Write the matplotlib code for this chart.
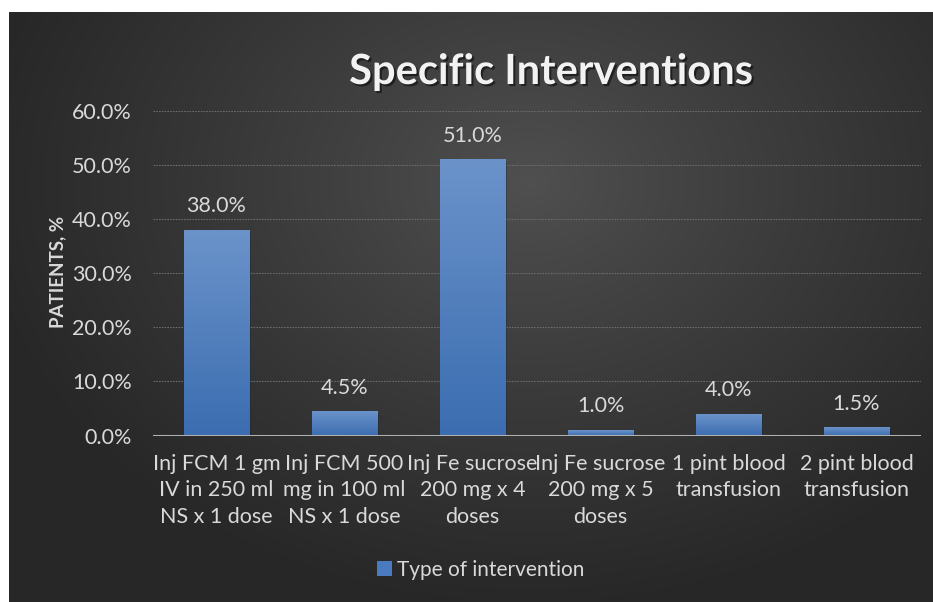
import numpy as np
import matplotlib
matplotlib.use("Agg")
import matplotlib.pyplot as plt
from matplotlib.patches import Patch
from matplotlib import patheffects as pe
from matplotlib.ticker import FuncFormatter

categories = [
    "Inj FCM 1 gm\nIV in 250 ml\nNS x 1 dose",
    "Inj FCM 500\nmg in 100 ml\nNS x 1 dose",
    "Inj Fe sucrose\n200 mg x 4\ndoses",
    "Inj Fe sucrose\n200 mg x 5\ndoses",
    "1 pint blood\ntransfusion",
    "2 pint blood\ntransfusion",
]
values = [38.0, 4.5, 51.0, 1.0, 4.0, 1.5]
y_ticks = [0, 10, 20, 30, 40, 50, 60]
title = "Specific Interventions"
y_label = "PATIENTS, %"
series_name = "Type of intervention"

FONT = ["Lato", "DejaVu Sans"]
TEXT = "#d9d9d9"
W, H = 933, 602

fig = plt.figure(figsize=(W / 100, H / 100), dpi=100, facecolor="white")

# dark radial-gradient chart background
bg = fig.add_axes([9 / W, 0, 1 - 9 / W, 590 / H], zorder=0)
bg.set_axis_off()
yy, xx = np.mgrid[0:590, 0:924]
cx, cy = 520, 170
r = np.sqrt(((xx - cx) / 560) ** 2 + ((yy - cy) / 430) ** 2)
r = np.clip(r, 0, 1)
shade = (0x50 - (0x50 - 0x27) * r ** 0.9) / 255
img = np.dstack([shade, shade, shade])
bg.imshow(img, aspect="auto", extent=[0, 1, 0, 1], origin="upper")
bg.set_xlim(0, 1)
bg.set_ylim(0, 1)

# plot area
x0, x1 = 152.5, 920.5
y_bot, y_top = 435.5, 110.7
ax = fig.add_axes([x0 / W, 1 - y_bot / H, (x1 - x0) / W, (y_bot - y_top) / H], zorder=1)
ax.patch.set_alpha(0)
x = np.arange(len(categories))
ax.set_xlim(-0.5, len(categories) - 0.5)
ax.set_ylim(0, 60)

for t in y_ticks[1:]:
    ax.axhline(t, color="#6b6b6b", lw=0.8, ls=(0, (1.5, 1)), zorder=1)

bars = ax.bar(x, values, width=0.51, color="#4a7bc0", zorder=3,
              path_effects=[pe.SimplePatchShadow(offset=(1.5, -1.5), alpha=0.35), pe.Normal()])

# vertical gradient fill on each bar
grad = np.linspace(0, 1, 256).reshape(-1, 1)
top_c = np.array([0x6b, 0x93, 0xca]) / 255
bot_c = np.array([0x3b, 0x6d, 0xb0]) / 255
gimg = top_c * (1 - grad[..., None]) + bot_c * grad[..., None]
gimg = gimg.reshape(256, 1, 3)
for b in bars:
    bx, by = b.get_x(), b.get_y()
    bw, bh = b.get_width(), b.get_height()
    im = ax.imshow(gimg, extent=[bx, bx + bw, by, by + max(bh, 0.01)],
                   aspect="auto", origin="upper", zorder=4)
    im.set_clip_path(b)

ax.axhline(0, color="#b0b0b0", lw=2.2, zorder=5)

for xi, v in zip(x, values):
    ax.annotate(f"{v:.1f}%", (xi, v), xytext=(0, 17), textcoords="offset points",
                ha="center", va="center", color=TEXT, fontsize=15.5, family=FONT)

ax.set_yticks(y_ticks)
ax.yaxis.set_major_formatter(FuncFormatter(lambda v, p: f"{v:.1f}%"))
ax.set_xticks(x)
ax.set_xticklabels(categories, family=FONT, fontsize=15.5, color=TEXT, linespacing=1.42)
for lab in ax.get_yticklabels():
    lab.set_family(FONT)
    lab.set_fontsize(15.5)
    lab.set_color(TEXT)
ax.tick_params(axis="both", length=0)
ax.tick_params(axis="y", pad=15)
ax.tick_params(axis="x", pad=13)
for s in ax.spines.values():
    s.set_visible(False)

fig.text(58 / W, 1 - 272 / H, y_label, rotation=90, ha="center", va="center",
         color=TEXT, fontsize=13.5, fontweight="bold", family=FONT)

fig.text(551 / W, 1 - 72 / H, title, ha="center", va="center", color="#f2f2f2",
         fontsize=30, fontweight="bold", family=FONT,
         path_effects=[pe.withSimplePatchShadow(offset=(1.5, -1.5), shadow_rgbFace="black", alpha=0.5)])

leg = fig.legend(handles=[Patch(facecolor="#4a7bc0", label=series_name)],
                 loc="center", bbox_to_anchor=(481 / W, 1 - 570 / H), frameon=False,
                 prop={"family": FONT, "size": 15}, handlelength=0.7, handleheight=0.7,
                 handletextpad=0.25, labelcolor=TEXT)

fig.savefig("out.png", dpi=100, facecolor="white")
